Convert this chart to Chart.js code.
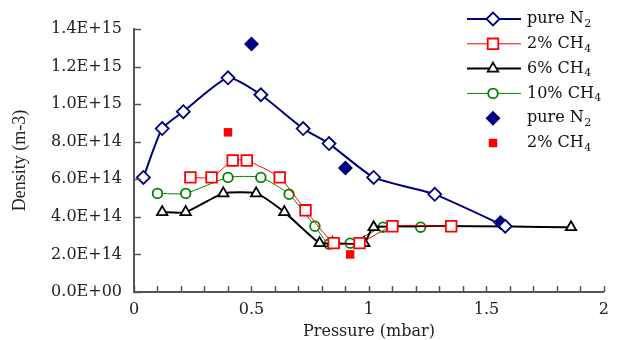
<!DOCTYPE html>
<html><head><meta charset="utf-8">
<script src="https://cdn.jsdelivr.net/npm/chart.js@4/dist/chart.umd.min.js"></script>
<style>html,body{margin:0;padding:0;background:#fff;}canvas{display:block}</style>
</head><body>
<canvas id="c" width="617" height="340"></canvas>
<script>
// ---- data ----
const n2Pressure   = [0.04, 0.12, 0.21, 0.40, 0.54, 0.72, 0.83, 1.02, 1.28, 1.58];
const n2Density    = [6.1e14, 8.7e14, 9.6e14, 1.14e15, 1.05e15, 8.7e14, 7.9e14, 6.1e14, 5.2e14, 3.5e14];
const ch4p2Pressure = [0.24, 0.33, 0.42, 0.48, 0.62, 0.73, 0.85, 0.96, 1.10, 1.35];
const ch4p2Density  = [6.1e14, 6.1e14, 7.0e14, 7.0e14, 6.1e14, 4.35e14, 2.6e14, 2.6e14, 3.5e14, 3.5e14];
const ch4p6Pressure = [0.12, 0.22, 0.38, 0.52, 0.64, 0.79, 0.845, 0.98, 1.02, 1.86];
const ch4p6Density  = [4.25e14, 4.25e14, 5.25e14, 5.25e14, 4.25e14, 2.6e14, 2.6e14, 2.6e14, 3.45e14, 3.45e14];
const ch4p10Pressure = [0.10, 0.22, 0.40, 0.54, 0.66, 0.77, 0.83, 0.92, 1.06, 1.22];
const ch4p10Density  = [5.25e14, 5.25e14, 6.1e14, 6.1e14, 5.2e14, 3.5e14, 2.55e14, 2.6e14, 3.45e14, 3.45e14];
const n2FilledPressure = [0.50, 0.90, 1.56];
const n2FilledDensity  = [1.32e15, 6.6e14, 3.7e14];
const ch4FilledPressure = [0.40, 0.92];
const ch4FilledDensity  = [8.5e14, 2.0e14];
const xLabelValues = [0, 0.5, 1, 1.5, 2];
const seriesNames = ['pure N', '2% CH', '6% CH', '10% CH', 'pure N', '2% CH'];
const seriesSubs  = ['2', '4', '4', '4', '2', '4'];
const xTitle = 'Pressure (mbar)';
const yTitle = 'Density (m-3)';

const pts = (xs, ys) => xs.map((x, i) => ({x: x, y: ys[i]}));

const NAVY = '#000080', RED = '#ff0000', BLACK = '#000000', GREEN = '#008000';
const TICKFONT = 'DejaVu Serif';

function sci(v) {
  if (Math.abs(v) < 1) return '0.0E+00';
  const e = Math.floor(Math.log10(Math.abs(v)) + 1e-9);
  const m = v / Math.pow(10, e);
  return m.toFixed(1) + 'E+' + String(e).padStart(2, '0');
}

const styles = [
  {name: seriesNames[0], sub: seriesSubs[0], color: NAVY,  lw: 2,   style: 'rectRot',  r: 6.5, fill: '#fff', line: true},
  {name: seriesNames[1], sub: seriesSubs[1], color: RED,   lw: 1,   style: 'rect',     r: 7.5, fill: '#fff', line: true},
  {name: seriesNames[2], sub: seriesSubs[2], color: BLACK, lw: 2,   style: 'triangle', r: 6,   fill: '#fff', line: true},
  {name: seriesNames[3], sub: seriesSubs[3], color: GREEN, lw: 1,   style: 'circle',   r: 4.8, fill: '#fff', line: true},
  {name: seriesNames[4], sub: seriesSubs[4], color: NAVY,  lw: 0,   style: 'rectRot',  r: 7.5, fill: NAVY,   line: false},
  {name: seriesNames[5], sub: seriesSubs[5], color: RED,   lw: 0,   style: 'rect',     r: 6,   fill: RED,    line: false}
];

function lineDs(label, data, s) {
  return {
    label: label, data: data, showLine: s.line,
    borderColor: s.color, borderWidth: s.line ? s.lw : 0, tension: 0.18,
    pointStyle: s.style, pointRadius: s.r, pointHoverRadius: s.r,
    pointBackgroundColor: s.fill, pointBorderColor: s.color,
    pointBorderWidth: s.line ? 1.8 : 0, backgroundColor: s.fill
  };
}

function drawMarker(ctx, s, x, y) {
  ctx.save();
  ctx.beginPath();
  const r = s.r;
  if (s.style === 'rectRot') {
    ctx.moveTo(x - r, y); ctx.lineTo(x, y - r); ctx.lineTo(x + r, y); ctx.lineTo(x, y + r); ctx.closePath();
  } else if (s.style === 'rect') {
    const h = r * Math.SQRT1_2; ctx.rect(x - h, y - h, 2 * h, 2 * h);
  } else if (s.style === 'triangle') {
    const dx = r * Math.cos(Math.PI / 6), dy = r * Math.sin(Math.PI / 6);
    ctx.moveTo(x, y - r); ctx.lineTo(x + dx, y + dy); ctx.lineTo(x - dx, y + dy); ctx.closePath();
  } else {
    ctx.arc(x, y, r, 0, Math.PI * 2);
  }
  ctx.fillStyle = s.fill; ctx.fill();
  if (s.line) { ctx.lineWidth = 1.8; ctx.strokeStyle = s.color; ctx.stroke(); }
  ctx.restore();
}

const decor = {
  id: 'decor',
  afterDraw(chart) {
    const ctx = chart.ctx, xs = chart.scales.x, ys = chart.scales.y;
    const a = chart.chartArea;
    ctx.save();
    ctx.strokeStyle = '#555'; ctx.lineWidth = 1.5;
    // inward tick marks
    for (let i = 0; i <= 20; i++) {
      const px = Math.round(xs.getPixelForValue(i / 10)) + 0.5;
      ctx.beginPath(); ctx.moveTo(px, a.bottom); ctx.lineTo(px, a.bottom - 6); ctx.stroke();
    }
    for (let i = 0; i <= 7; i++) {
      const py = Math.round(ys.getPixelForValue(i * 2e14)) + 0.5;
      ctx.beginPath(); ctx.moveTo(a.left, py); ctx.lineTo(a.left + 7, py); ctx.stroke();
    }
    // legend
    const rowY0 = 19, rowDy = 24.8, lx0 = 467, lx1 = 521, mx = 493, tx = 527;
    styles.forEach((s, i) => {
      const y = rowY0 + i * rowDy;
      if (s.line) {
        ctx.strokeStyle = s.color; ctx.lineWidth = s.lw;
        ctx.beginPath(); ctx.moveTo(lx0, y); ctx.lineTo(lx1, y); ctx.stroke();
      }
      drawMarker(ctx, s, mx, y);
      ctx.fillStyle = '#111'; ctx.textBaseline = 'middle'; ctx.textAlign = 'left';
      ctx.font = '16px "' + TICKFONT + '"';
      ctx.fillText(s.name, tx, y);
      const w = ctx.measureText(s.name).width;
      ctx.font = '11px "' + TICKFONT + '"';
      ctx.fillText(s.sub, tx + w + 0.5, y + 5);
    });
    ctx.restore();
  }
};

new Chart(document.getElementById('c'), {
  type: 'scatter',
  data: {
    datasets: [
      lineDs('pure N2', pts(n2Pressure, n2Density), styles[0]),
      lineDs('2% CH4', pts(ch4p2Pressure, ch4p2Density), styles[1]),
      lineDs('6% CH4', pts(ch4p6Pressure, ch4p6Density), styles[2]),
      lineDs('10% CH4', pts(ch4p10Pressure, ch4p10Density), styles[3]),
      lineDs('pure N2 (filled)', pts(n2FilledPressure, n2FilledDensity), styles[4]),
      lineDs('2% CH4 (filled)', pts(ch4FilledPressure, ch4FilledDensity), styles[5])
    ]
  },
  options: {
    responsive: false, animation: false, devicePixelRatio: 1,
    layout: {padding: {left: 0, top: 29, right: 7, bottom: 0}},
    plugins: {legend: {display: false}, tooltip: {enabled: false}},
    scales: {
      x: {
        type: 'linear', min: 0, max: 2,
        grid: {display: false, drawTicks: false},
        border: {display: true, color: '#555', width: 2},
        afterFit: s => { s.height = 48; },
        afterBuildTicks: s => { s.ticks = Array.from({length: 21}, (_, i) => ({value: i / 10})); },
        ticks: {
          autoSkip: false, maxRotation: 0, padding: 8, color: '#222',
          font: {family: TICKFONT, size: 16},
          callback: v => {
            const hit = xLabelValues.find(t => Math.abs(t - v) < 1e-6);
            return hit === undefined ? '' : String(hit);
          }
        },
        title: {display: true, text: xTitle, color: '#222', padding: {top: 0, bottom: 0},
                font: {family: TICKFONT, size: 16, lineHeight: 1}}
      },
      y: {
        type: 'linear', min: 0, max: 1.4e15,
        grid: {display: false, drawTicks: false},
        border: {display: true, color: '#555', width: 2},
        afterFit: s => { s.width = 134; },
        afterBuildTicks: s => { s.ticks = Array.from({length: 8}, (_, i) => ({value: i * 2e14})); },
        ticks: {padding: 12, color: '#222', font: {family: TICKFONT, size: 16}, callback: v => sci(v)},
        title: {display: true, text: yTitle, color: '#222', padding: {top: 9, bottom: 0},
                font: {family: 'Liberation Serif', size: 18}}
      }
    }
  },
  plugins: [decor]
});
</script>
</body></html>
